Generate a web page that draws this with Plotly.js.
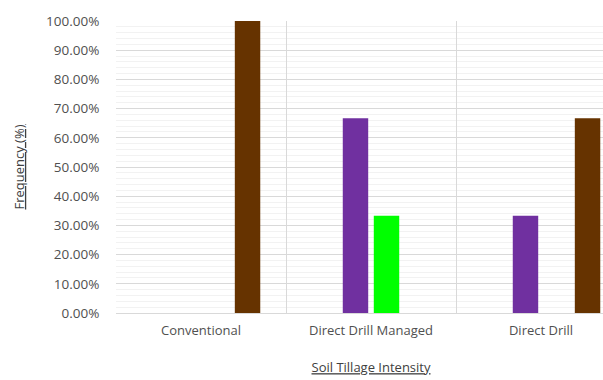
<!DOCTYPE html>
<html>
<head>
<meta charset="utf-8">
<script src="https://cdn.plot.ly/plotly-3.0.1.min.js"></script>
<style>
html, body { margin:0; padding:0; overflow:hidden; background:#fff; }
#chart { width:626px; height:380px; }
</style>
</head>
<body>
<div id="chart"></div>
<script>
var categories = ["Conventional", "Direct Drill Managed", "Direct Drill"];
var seriesNames = ["Series 1", "Series 2", "Series 3", "Series 4"];
var series1 = [0, 0, 0];
var series2 = [0, 0.6667, 0.3333];
var series3 = [0, 0.3333, 0];
var series4 = [1.0, 0, 0.6667];
var seriesColors = ["#4472C4", "#7030A0", "#00FF00", "#663300"];

var allSeries = [series1, series2, series3, series4];
var traces = allSeries.map(function (vals, i) {
  return {
    type: "bar",
    name: seriesNames[i],
    x: categories,
    y: vals,
    marker: { color: seriesColors[i] },
    showlegend: false,
    hoverinfo: "x+y"
  };
});

var font = { family: "Open Sans, sans-serif", size: 13, color: "#595959" };

var layout = {
  width: 626,
  height: 380,
  margin: { l: 116, r: 0, t: 21, b: 67 },
  paper_bgcolor: "#ffffff",
  plot_bgcolor: "#ffffff",
  font: font,
  barmode: "group",
  bargap: 0.27,
  bargroupgap: 0.18,
  xaxis: {
    type: "category",
    tickson: "boundaries",
    showgrid: true,
    gridcolor: "#d9d9d9",
    gridwidth: 1,
    showline: true,
    linecolor: "#d9d9d9",
    linewidth: 1,
    ticks: "outside",
    ticklen: 10,
    ticklabelstandoff: 5,
    tickcolor: "rgba(0,0,0,0)",
    tickfont: { family: "Open Sans, sans-serif", size: 13, color: "#505050" },
    title: {
      text: "<u>Soil Tillage Intensity</u>",
      font: { family: "Open Sans, sans-serif", size: 13, color: "#404040" },
      standoff: 25
    },
    automargin: false,
    fixedrange: true
  },
  yaxis: {
    range: [0, 1],
    dtick: 0.1,
    tickformat: ".2%",
    showgrid: true,
    gridcolor: "#d9d9d9",
    gridwidth: 1,
    zeroline: false,
    showline: false,
    minor: { dtick: 0.02, showgrid: true, gridcolor: "#f2f2f2", gridwidth: 1 },
    ticks: "outside",
    ticklen: 13,
    tickcolor: "rgba(0,0,0,0)",
    tickfont: { family: "Open Sans, sans-serif", size: 13.5, color: "#505050" },
    title: {
      text: "<u>Frequency (%)</u>",
      font: { family: "Open Sans, sans-serif", size: 13, color: "#404040" },
      standoff: 18
    },
    automargin: false,
    fixedrange: true
  }
};

Plotly.newPlot("chart", traces, layout, { displayModeBar: false, staticPlot: true });
</script>
</body>
</html>
